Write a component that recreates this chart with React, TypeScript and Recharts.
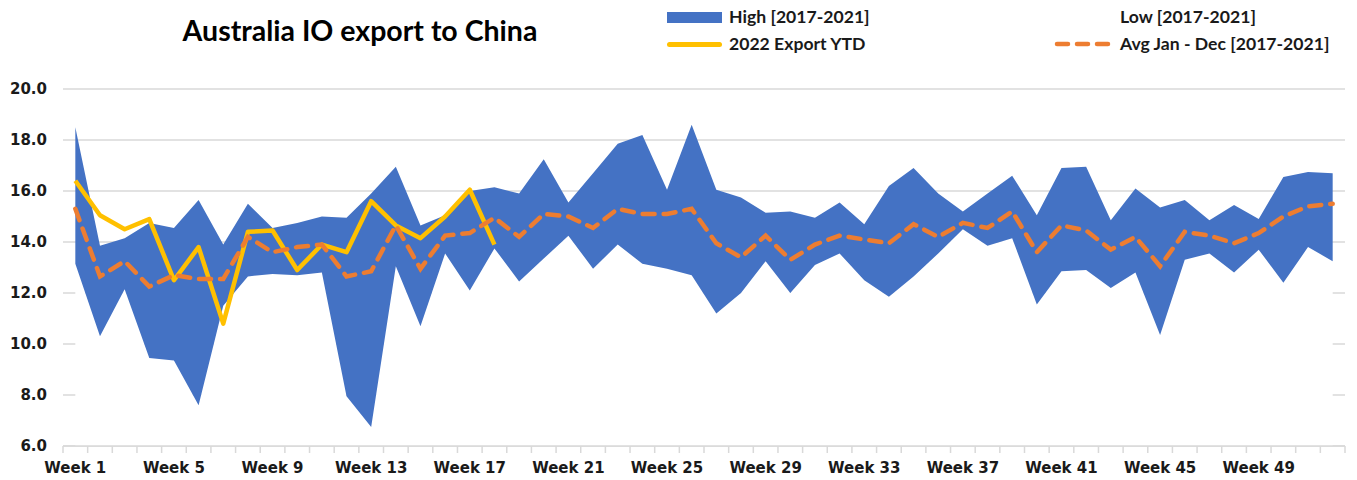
import { Area, CartesianGrid, ComposedChart, Legend, Line, XAxis, YAxis } from 'recharts';

const weeks = Array.from({ length: 52 }, (_, i) => `Week ${i + 1}`);

const high = [
  18.5, 13.85, 14.15, 14.75, 14.55, 15.65, 13.9, 15.5, 14.55, 14.75, 15.0, 14.95, 15.9,
  16.95, 14.65, 15.05, 16.0, 16.15, 15.9, 17.25, 15.55, 16.7, 17.85, 18.2, 16.05, 18.6,
  16.05, 15.75, 15.15, 15.2, 14.95, 15.55, 14.7, 16.2, 16.9, 15.9, 15.2, 15.9, 16.6,
  15.05, 16.9, 16.95, 14.85, 16.1, 15.35, 15.65, 14.85, 15.45, 14.9, 16.55, 16.75, 16.7,
];

const low = [
  13.15, 10.3, 12.15, 9.45, 9.35, 7.6, 11.5, 12.65, 12.75, 12.7, 12.8, 7.95, 6.75,
  13.05, 10.7, 13.55, 12.1, 13.75, 12.45, 13.35, 14.25, 12.95, 13.9, 13.15, 12.95, 12.7,
  11.2, 12.0, 13.25, 12.0, 13.1, 13.55, 12.5, 11.85, 12.65, 13.55, 14.5, 13.85, 14.15,
  11.55, 12.85, 12.9, 12.2, 12.8, 10.35, 13.3, 13.55, 12.8, 13.7, 12.4, 13.8, 13.25,
];

const export2022 = [
  16.4, 15.05, 14.5, 14.9, 12.5, 13.8, 10.8, 14.4, 14.45, 12.9, 13.9, 13.6, 15.6,
  14.65, 14.15, 15.0, 16.05, 13.9,
];

const avg = [
  15.3, 12.65, 13.25, 12.25, 12.7, 12.55, 12.55, 14.2, 13.6, 13.8, 13.9, 12.65, 12.85,
  14.65, 12.95, 14.25, 14.35, 14.95, 14.2, 15.1, 15.0, 14.55, 15.3, 15.1, 15.1, 15.3,
  13.95, 13.4, 14.25, 13.3, 13.9, 14.25, 14.1, 13.95, 14.7, 14.2, 14.75, 14.55, 15.2,
  13.6, 14.65, 14.45, 13.7, 14.2, 13.05, 14.4, 14.25, 13.95, 14.35, 15.0, 15.4, 15.5,
];

const yTicks = [6, 8, 10, 12, 14, 16, 18, 20];

const data = weeks.map((week, i) => ({
  week,
  low: low[i],
  band: +(high[i] - low[i]).toFixed(2),
  ytd: i < export2022.length ? export2022[i] : null,
  avg: avg[i],
}));

const W = 1357;
const H = 480;
const PLOT_LEFT = 63;
const PLOT_RIGHT = 12;
const STEP = (W - PLOT_LEFT - PLOT_RIGHT) / weeks.length;
const TICK_FONT = '"DejaVu Sans", sans-serif';
const LABEL_FONT = 'Lato, "Open Sans", sans-serif';

const WeekTick = (props: any) => {
  const { x, y, payload, index } = props;
  const i = index ?? payload?.index ?? 0;
  return (
    <g>
      <line x1={x - STEP / 2} x2={x - STEP / 2} y1={y} y2={y + 7} stroke="#d9d9d9" strokeWidth={1.5} />
      {i === weeks.length - 1 && (
        <line x1={x + STEP / 2} x2={x + STEP / 2} y1={y} y2={y + 7} stroke="#d9d9d9" strokeWidth={1.5} />
      )}
      {i % 4 === 0 && (
        <text x={x} y={y + 27} textAnchor="middle" fontFamily={TICK_FONT} fontWeight="bold" fontSize={15} fill="#1a1a1a">
          {payload.value}
        </text>
      )}
    </g>
  );
};

const LegendBox = () => {
  const text = (left: number, top: number, label: string) => (
    <div style={{ position: 'absolute', left, top: top - 11, height: 22, lineHeight: '22px', whiteSpace: 'nowrap' }}>{label}</div>
  );
  return (
    <div style={{ position: 'relative', width: W, height: 60, fontFamily: LABEL_FONT, fontWeight: 700, fontSize: 17.6, color: '#1a1a1a' }}>
      <div style={{ position: 'absolute', left: 667, top: 12, width: 55, height: 11, background: '#4472c4' }} />
      {text(729, 17, 'High [2017-2021]')}
      {text(1120, 17, 'Low [2017-2021]')}
      <div style={{ position: 'absolute', left: 667, top: 41.5, width: 55, height: 5, borderRadius: 2.5, background: '#ffc000' }} />
      {text(729, 44, '2022 Export YTD')}
      <svg style={{ position: 'absolute', left: 1052, top: 38 }} width={64} height={12}>
        <line x1={5} x2={60} y1={6} y2={6} stroke="#ed7d31" strokeWidth={4.5} strokeDasharray="11 9" strokeLinecap="round" />
      </svg>
      {text(1120, 44, 'Avg Jan - Dec [2017-2021]')}
    </div>
  );
};

export default function App() {
  return (
    <div style={{ position: 'absolute', left: 0, top: 0, width: W, height: H, background: '#fff' }}>
      <div
        style={{
          position: 'absolute',
          left: 110,
          width: 500,
          top: 11,
          textAlign: 'center',
          fontFamily: LABEL_FONT,
          fontWeight: 700,
          fontSize: 28.5,
          lineHeight: '38px',
          color: '#000',
          zIndex: 2,
        }}
      >
        Australia IO export to China
      </div>
      <ComposedChart width={W} height={H} data={data} margin={{ top: 89, right: PLOT_RIGHT, left: 0, bottom: 0 }}>
        <CartesianGrid vertical={false} stroke="#d9d9d9" strokeWidth={1.5} />
        <XAxis
          dataKey="week"
          interval={0}
          height={34}
          padding={{ left: STEP / 2, right: STEP / 2 }}
          axisLine={{ stroke: '#d9d9d9', strokeWidth: 1.5 }}
          tickLine={false}
          tickSize={0}
          tickMargin={0}
          tick={<WeekTick />}
        />
        <YAxis
          width={PLOT_LEFT}
          domain={[6, 20]}
          ticks={yTicks}
          allowDataOverflow
          axisLine={false}
          tickLine={false}
          tickSize={0}
          tickMargin={16}
          tickFormatter={(v: number) => v.toFixed(1)}
          tick={{ fontFamily: TICK_FONT, fontWeight: 'bold', fontSize: 15, fill: '#1a1a1a' }}
        />
        <Legend
          layout="horizontal"
          verticalAlign="middle"
          align="center"
          wrapperStyle={{ top: 0, left: 0, width: W, height: 60 }}
          content={<LegendBox />}
        />
        <Area type="linear" dataKey="low" name="Low [2017-2021]" stackId="band" stroke="none" fill="#ffffff" fillOpacity={1} isAnimationActive={false} />
        <Area type="linear" dataKey="band" name="High [2017-2021]" stackId="band" stroke="none" fill="#4472c4" fillOpacity={1} isAnimationActive={false} />
        <Line type="linear" dataKey="ytd" name="2022 Export YTD" stroke="#ffc000" strokeWidth={4.5} strokeLinejoin="round" dot={false} connectNulls={false} isAnimationActive={false} />
        <Line type="linear" dataKey="avg" name="Avg Jan - Dec [2017-2021]" stroke="#ed7d31" strokeWidth={4.5} strokeDasharray="12 9" strokeLinecap="round" dot={false} isAnimationActive={false} />
      </ComposedChart>
    </div>
  );
}
